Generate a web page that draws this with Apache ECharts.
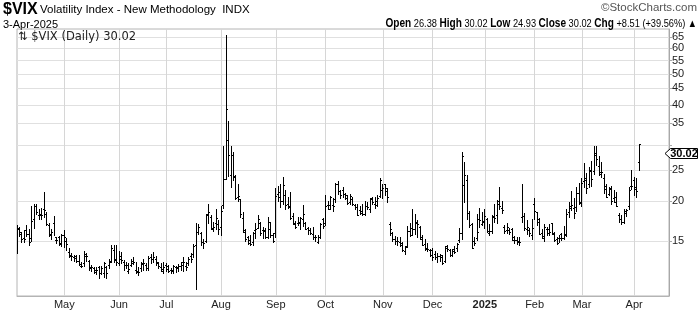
<!DOCTYPE html>
<html><head><meta charset="utf-8">
<script src="https://cdn.jsdelivr.net/npm/echarts@6/dist/echarts.min.js"></script>
<style>html,body{margin:0;padding:0;background:#fff}#c{width:700px;height:312px}</style>
</head><body><div id="c"></div>
<script>
const dates = [
'2024-04-04','2024-04-05','2024-04-08','2024-04-09','2024-04-10','2024-04-11','2024-04-12','2024-04-15','2024-04-16','2024-04-17','2024-04-18','2024-04-19','2024-04-22','2024-04-23','2024-04-24','2024-04-25','2024-04-26','2024-04-29','2024-04-30',
'2024-05-01','2024-05-02','2024-05-03','2024-05-06','2024-05-07','2024-05-08','2024-05-09','2024-05-10','2024-05-13','2024-05-14','2024-05-15','2024-05-16','2024-05-17','2024-05-20','2024-05-21','2024-05-22','2024-05-23','2024-05-24','2024-05-28','2024-05-29','2024-05-30','2024-05-31',
'2024-06-03','2024-06-04','2024-06-05','2024-06-06','2024-06-07','2024-06-10','2024-06-11','2024-06-12','2024-06-13','2024-06-14','2024-06-17','2024-06-18','2024-06-20','2024-06-21','2024-06-24','2024-06-25','2024-06-26','2024-06-27','2024-06-28',
'2024-07-01','2024-07-02','2024-07-03','2024-07-05','2024-07-08','2024-07-09','2024-07-10','2024-07-11','2024-07-12','2024-07-15','2024-07-16','2024-07-17','2024-07-18','2024-07-19','2024-07-22','2024-07-23','2024-07-24','2024-07-25','2024-07-26','2024-07-29','2024-07-30','2024-07-31',
'2024-08-01','2024-08-02','2024-08-05','2024-08-06','2024-08-07','2024-08-08','2024-08-09','2024-08-12','2024-08-13','2024-08-14','2024-08-15','2024-08-16','2024-08-19','2024-08-20','2024-08-21','2024-08-22','2024-08-23','2024-08-26','2024-08-27','2024-08-28','2024-08-29','2024-08-30',
'2024-09-03','2024-09-04','2024-09-05','2024-09-06','2024-09-09','2024-09-10','2024-09-11','2024-09-12','2024-09-13','2024-09-16','2024-09-17','2024-09-18','2024-09-19','2024-09-20','2024-09-23','2024-09-24','2024-09-25','2024-09-26','2024-09-27','2024-09-30',
'2024-10-01','2024-10-02','2024-10-03','2024-10-04','2024-10-07','2024-10-08','2024-10-09','2024-10-10','2024-10-11','2024-10-14','2024-10-15','2024-10-16','2024-10-17','2024-10-18','2024-10-21','2024-10-22','2024-10-23','2024-10-24','2024-10-25','2024-10-28','2024-10-29','2024-10-30','2024-10-31',
'2024-11-01','2024-11-04','2024-11-05','2024-11-06','2024-11-07','2024-11-08','2024-11-11','2024-11-12','2024-11-13','2024-11-14','2024-11-15','2024-11-18','2024-11-19','2024-11-20','2024-11-21','2024-11-22','2024-11-25','2024-11-26','2024-11-27','2024-11-29',
'2024-12-02','2024-12-03','2024-12-04','2024-12-05','2024-12-06','2024-12-09','2024-12-10','2024-12-11','2024-12-12','2024-12-13','2024-12-16','2024-12-17','2024-12-18','2024-12-19','2024-12-20','2024-12-23','2024-12-24','2024-12-26','2024-12-27','2024-12-30','2024-12-31',
'2025-01-02','2025-01-03','2025-01-06','2025-01-07','2025-01-08','2025-01-10','2025-01-13','2025-01-14','2025-01-15','2025-01-16','2025-01-17','2025-01-21','2025-01-22','2025-01-23','2025-01-24','2025-01-27','2025-01-28','2025-01-29','2025-01-30','2025-01-31',
'2025-02-03','2025-02-04','2025-02-05','2025-02-06','2025-02-07','2025-02-10','2025-02-11','2025-02-12','2025-02-13','2025-02-14','2025-02-18','2025-02-19','2025-02-20','2025-02-21','2025-02-24','2025-02-25','2025-02-26','2025-02-27','2025-02-28',
'2025-03-03','2025-03-04','2025-03-05','2025-03-06','2025-03-07','2025-03-10','2025-03-11','2025-03-12','2025-03-13','2025-03-14','2025-03-17','2025-03-18','2025-03-19','2025-03-20','2025-03-21','2025-03-24','2025-03-25','2025-03-26','2025-03-27','2025-03-28','2025-03-31',
'2025-04-01','2025-04-02','2025-04-03'
];

const opens = [
14.4,16.5,15.8,15.3,16.2,15.8,15.3,17.6,19.3,18.1,18.0,18.8,18.2,16.8,15.8,17.0,15.1,15.4,14.8,
15.6,15.0,13.8,13.5,13.3,13.4,13.0,12.5,12.8,13.4,13.0,12.3,12.3,12.2,12.4,11.9,11.9,12.4,12.6,13.0,14.0,13.2,
12.8,13.4,12.9,12.6,12.1,12.6,13.0,12.2,12.0,12.3,12.8,12.6,12.3,13.3,13.2,13.2,12.8,12.4,12.1,
12.6,12.5,12.2,12.2,12.4,12.4,12.5,12.6,12.5,12.8,13.4,13.6,14.6,16.0,15.9,14.9,15.0,18.2,17.8,16.3,17.0,16.9,
16.6,19.4,23.4,31.0,24.1,27.8,23.9,20.5,20.2,17.7,16.0,15.4,15.1,14.9,16.2,16.5,17.1,16.2,16.1,15.4,16.3,15.6,
15.9,21.0,20.6,19.9,20.9,19.6,19.2,17.9,16.9,17.1,17.0,17.5,17.0,16.4,16.2,15.7,15.4,14.9,15.4,17.5,
17.0,19.4,19.4,19.4,20.3,22.6,21.5,21.6,21.0,20.9,19.8,20.2,19.4,19.1,18.7,18.6,18.2,19.3,18.9,20.3,19.5,19.9,20.7,
21.6,22.5,21.5,16.9,15.9,15.2,15.0,14.9,14.6,13.9,14.4,16.1,16.5,16.3,17.1,16.6,15.4,14.7,14.2,14.0,
14.0,13.6,13.3,13.4,13.3,13.0,14.4,14.0,13.5,14.1,14.2,15.1,15.9,22.4,23.2,18.3,16.9,15.0,15.3,17.6,16.9,
17.2,17.5,15.9,16.1,17.9,18.0,20.0,19.0,16.6,16.2,16.2,16.3,15.4,15.1,14.9,17.8,17.9,16.3,16.2,15.6,
19.5,18.4,17.6,15.9,15.3,16.3,16.3,17.0,15.7,15.2,15.3,15.8,15.3,15.7,18.5,19.2,19.0,18.3,21.2,
19.8,23.0,23.3,22.5,24.8,24.7,28.2,25.6,24.6,23.5,22.3,21.0,21.9,20.4,20.6,18.0,17.5,17.2,18.6,19.3,22.2,
23.2,22.1,26.38
];

const highs = [
16.76,16.6,16.0,16.2,16.8,16.3,19.3,19.6,19.5,18.9,19.0,21.36,18.4,17.0,16.3,17.9,15.4,15.5,15.8,
16.2,15.3,14.2,13.7,13.5,13.5,13.5,12.9,13.9,13.7,13.1,12.6,12.4,12.4,12.5,12.5,12.9,12.5,13.2,14.6,14.6,14.6,
13.9,13.8,13.1,12.9,12.8,13.2,13.3,12.9,12.4,12.9,13.2,12.8,13.4,13.6,13.8,13.4,12.9,12.8,12.9,
12.8,12.6,12.3,12.6,12.5,12.7,12.9,13.3,12.9,13.3,13.7,14.7,17.0,16.9,16.0,15.2,18.2,19.5,18.0,17.2,18.8,17.4,
19.3,29.66,65.73,35.6,29.6,28.3,24.1,22.5,20.3,18.5,16.3,15.5,15.6,16.0,17.0,18.0,17.2,16.6,16.5,17.8,17.2,15.9,
21.9,22.2,22.6,23.8,21.6,20.6,21.3,18.3,17.3,17.8,17.8,19.4,17.2,16.6,16.5,16.6,15.6,15.6,17.0,17.7,
20.9,20.0,20.7,20.4,22.8,23.0,21.6,22.0,21.2,20.9,21.0,20.5,19.6,19.5,19.3,19.5,20.0,19.8,20.4,20.6,20.5,20.8,23.6,
22.5,22.6,21.9,17.2,16.0,15.5,15.4,15.4,14.9,14.4,16.7,17.1,18.8,18.2,17.4,16.7,15.6,15.2,14.8,14.1,
14.2,13.9,13.7,13.6,13.5,14.4,14.6,14.1,14.1,14.4,14.8,16.4,28.32,26.4,24.0,18.6,17.0,15.4,18.2,19.0,18.5,
18.9,17.7,16.9,18.0,19.5,20.1,22.0,20.0,16.8,17.0,16.4,16.5,15.5,15.4,15.4,22.5,18.3,17.4,16.5,17.6,
20.4,18.5,17.7,16.3,16.9,16.6,16.9,17.0,16.0,15.4,15.6,15.9,16.7,18.9,19.8,21.5,20.4,22.0,22.8,
23.5,26.3,24.4,25.5,26.6,29.6,29.57,27.5,26.5,24.3,22.6,22.1,22.3,21.6,21.3,18.3,18.0,18.8,18.9,22.0,24.9,
23.8,23.6,30.02
];

const lows = [
13.72,15.5,14.9,14.9,15.5,14.6,15.0,16.4,18.2,17.6,17.6,17.8,16.8,15.5,15.2,15.6,14.8,14.6,14.4,
14.3,14.0,13.3,13.1,13.0,12.9,12.6,12.4,12.5,13.0,12.2,12.1,11.9,11.8,11.5,11.8,11.6,11.5,12.3,12.9,12.9,12.6,
12.6,12.8,12.2,12.3,11.9,12.5,12.7,11.9,11.7,12.1,12.2,12.2,12.2,12.8,12.9,12.6,12.3,12.1,11.9,
12.1,12.0,11.9,11.9,12.0,12.1,12.2,12.1,12.2,12.6,12.9,13.3,10.6,15.7,14.6,14.2,14.9,17.0,16.3,16.1,16.3,15.8,
15.6,19.0,23.39,23.9,22.0,23.2,20.2,19.9,17.8,16.0,15.0,14.7,14.5,14.6,15.3,16.4,15.6,15.3,15.3,15.3,15.4,14.9,
15.4,19.9,19.1,19.5,18.9,19.0,17.6,16.9,16.4,16.8,16.3,16.7,16.3,15.7,15.8,15.2,15.0,14.8,15.3,16.5,
16.8,18.8,18.9,18.6,19.8,21.0,20.4,20.6,20.3,19.6,19.5,19.4,18.8,18.0,18.2,18.0,18.1,18.9,18.5,19.6,19.0,19.3,20.5,
20.4,20.9,19.8,15.6,15.0,14.7,14.6,14.4,13.9,13.6,14.3,15.5,15.6,15.7,15.4,15.2,14.5,14.0,13.9,13.4,
13.1,13.2,12.9,13.0,12.7,12.9,13.9,13.4,13.4,13.7,13.9,14.9,15.2,19.8,17.6,16.6,14.2,14.5,15.1,16.6,16.8,
16.5,16.0,15.6,15.9,17.2,17.1,18.9,18.3,15.9,15.9,15.8,15.1,14.8,14.7,14.6,17.2,16.2,15.8,15.5,15.2,
17.6,16.8,15.7,15.3,15.0,15.6,15.6,15.8,15.0,14.7,14.9,15.1,15.2,15.5,17.8,18.7,17.7,18.6,19.5,
19.2,22.0,21.2,22.1,22.2,24.2,25.9,24.0,23.8,21.2,20.5,20.9,19.6,19.8,19.2,17.2,16.9,17.0,17.9,18.8,21.7,
20.8,20.6,24.93
];

const closes = [
16.35,16.03,15.19,15.20,15.80,14.91,17.31,19.23,18.40,18.21,18.00,18.71,16.94,15.69,15.97,15.37,15.03,14.67,15.65,
15.39,14.68,13.49,13.49,13.23,13.00,12.69,12.55,13.60,13.42,12.45,12.42,11.99,12.15,11.86,12.29,12.77,11.93,12.92,14.28,13.10,12.92,
13.11,13.06,12.63,12.58,12.22,12.74,12.85,12.04,11.94,12.66,12.75,12.30,13.28,13.20,13.33,12.84,12.55,12.24,12.44,
12.22,12.03,12.09,12.48,12.37,12.51,12.85,12.89,12.46,13.12,13.19,14.48,15.93,16.52,14.91,14.72,18.04,18.46,16.39,16.60,17.69,16.36,
18.59,23.39,38.57,27.71,27.85,23.79,20.37,20.71,18.12,16.19,15.23,14.80,14.65,15.88,16.27,17.55,15.86,16.15,15.43,17.11,15.65,15.00,
20.72,21.32,19.90,22.38,19.45,19.08,17.69,17.07,16.56,17.14,17.61,18.23,16.33,16.15,15.89,15.39,15.41,15.37,16.96,16.73,
19.26,18.90,20.49,19.21,22.64,21.42,20.86,20.93,20.46,19.70,20.64,19.58,19.11,18.03,18.37,18.20,19.24,19.08,20.33,19.80,19.34,20.35,23.16,
21.88,21.98,20.49,16.27,15.20,14.94,14.97,14.71,14.02,14.31,16.14,15.58,16.35,17.16,16.87,15.24,14.60,14.10,14.10,13.51,
13.34,13.30,13.45,13.54,12.77,14.19,14.18,13.58,13.92,13.81,14.69,15.87,27.62,24.09,18.36,16.78,14.27,14.73,15.95,17.40,17.35,
17.93,16.13,16.04,17.82,17.70,19.54,19.19,18.71,16.12,16.60,15.97,15.06,15.10,15.02,14.85,17.90,16.41,16.56,15.84,16.43,
18.62,17.21,15.77,15.50,16.54,15.81,16.02,15.89,15.10,14.77,15.35,15.27,15.66,18.21,18.98,19.43,19.10,21.13,19.63,
22.78,23.51,21.93,24.87,23.37,27.86,26.92,24.23,24.66,21.77,20.51,21.70,19.90,19.80,19.28,17.48,17.15,18.33,18.69,21.65,22.28,
21.77,21.51,30.02
];

const monthLabels = ['May','Jun','Jul','Aug','Sep','Oct','Nov','Dec','2025','Feb','Mar','Apr'];
const yTickValues = [15,20,25,30,35,40,45,50,55,60,65];
const yLabelValues = [15,20,25,35,40,45,50,55,60,65];
const lastClose = 30.02;
const padSlots = 12;

// month-start indices, matched in order with monthLabels
const monthStarts = [];
for (let i = 1; i < dates.length; i++) {
  if (dates[i].slice(0,7) !== dates[i-1].slice(0,7)) monthStarts.push(i);
}
const labelAt = {};
monthStarts.forEach((idx, k) => { labelAt[idx] = monthLabels[k]; });

const categories = dates.slice();
for (let k = 0; k < padSlots; k++) categories.push('pad' + k);

const n = Math.min(dates.length, opens.length, highs.length, lows.length, closes.length);
const ohlc = [];
for (let i = 0; i < n; i++) ohlc.push([i, opens[i], highs[i], lows[i], closes[i]]);

const FONT = '"Liberation Sans", Arial, sans-serif';
const DJ = '"DejaVu Sans", Verdana, sans-serif';
const chart = echarts.init(document.getElementById('c'), null, {renderer: 'canvas'});

function renderOHLC(params, api) {
  const idx = api.value(0);
  const h = api.coord([idx, api.value(2)]);
  const l = api.coord([idx, api.value(3)]);
  const o = api.coord([idx, api.value(1)]);
  const c = api.coord([idx, api.value(4)]);
  const col = Math.floor(h[0]);
  const top = Math.floor(h[1]);
  const bot = Math.max(Math.floor(l[1]), top) + 1;
  const st = {fill: '#000'};
  return {type: 'group', children: [
    {type: 'rect', shape: {x: col, y: top, width: 1, height: bot - top}, style: st},
    {type: 'rect', shape: {x: col - 1, y: Math.floor(o[1]), width: 1, height: 1}, style: st},
    {type: 'rect', shape: {x: col + 1, y: Math.floor(c[1]), width: 1, height: 1}, style: st}
  ]};
}

chart.setOption({
  animation: false,
  backgroundColor: '#fff',
  textStyle: {fontFamily: FONT},
  grid: {left: 17, right: 31, top: 29, bottom: 16, show: true, borderColor: '#b4b4b4', borderWidth: 1, containLabel: false, outerBoundsMode: 'none'},
  xAxis: {
    type: 'category', data: categories, boundaryGap: false,
    axisLine: {show: true, lineStyle: {color: '#b4b4b4'}},
    axisTick: {show: false},
    axisLabel: {
      interval: (idx) => labelAt[idx] !== undefined,
      formatter: (v, idx) => {
        const t = labelAt[idx];
        if (t === undefined) return '';
        return /^\d{4}$/.test(t) ? '{b|' + t + '}' : t;
      },
      color: '#222', fontSize: 11, fontFamily: FONT, margin: 3,
      rich: {b: {fontWeight: 'bold', fontSize: 11, fontFamily: FONT, color: '#222'}}
    },
    splitLine: {show: true, interval: (idx) => labelAt[idx] !== undefined, lineStyle: {color: '#d6d6d6', width: 1}}
  },
  yAxis: {
    type: 'log', logBase: 10, min: 10.12, max: 69, position: 'right',
    axisLine: {show: true, lineStyle: {color: '#a8a8a8'}},
    axisTick: {show: true, inside: false, length: 3, customValues: yTickValues, lineStyle: {color: '#a8a8a8'}},
    axisLabel: {customValues: yLabelValues, color: '#222', fontSize: 11, fontFamily: FONT, margin: 3, formatter: (v) => String(Math.round(v))},
    splitLine: {show: true, lineStyle: {color: '#e0e0e0', width: 1}},
    minorTick: {show: false}, minorSplitLine: {show: false}
  },
  series: [{
    type: 'custom', renderItem: renderOHLC, data: ohlc,
    encode: {x: 0, y: [1, 2, 3, 4]}, clip: true, z: 5
  }]
});

// last-price tag on the right axis, placed from the axis scale
const yLast = chart.convertToPixel({yAxisIndex: 0}, lastClose);
const cy = Math.round(yLast) + 8;
chart.setOption({
  graphic: [
    {type: 'text', left: 3, top: 2, style: {text: '$VIX', font: 'bold 16px ' + FONT, fill: '#000'}},
    {type: 'text', left: 40, top: 4, style: {text: 'Volatility Index - New Methodology  INDX', font: '11.5px ' + FONT, fill: '#000'}},
    {type: 'text', left: 3, top: 19, style: {text: '3-Apr-2025', font: '11px ' + FONT, fill: '#000'}},
    {type: 'text', x: 697, y: 2, style: {text: '\u00A9StockCharts.com', font: '11.5px ' + FONT, fill: '#555', align: 'right', verticalAlign: 'top'}},
    {type: 'text', x: 697, y: 18, scaleX: 0.84, style: {
      text: '{b|Open} 26.38 {b|High} 30.02 {b|Low} 24.93 {b|Close} 30.02 {b|Chg} +8.51 (+39.56%) \u25B2',
      font: '11px ' + FONT, fill: '#000', align: 'right', verticalAlign: 'top',
      rich: {b: {font: 'bold 12px ' + FONT, fill: '#000'}}
    }},
    {type: 'text', left: 18, top: 31, z: 10, style: {text: '\u21C5 $VIX (Daily) 30.02', font: '11.5px ' + DJ, fill: '#222'}},
    {type: 'polygon', z: 20, shape: {points: [[665, cy + 0.5], [670.5, cy - 4.5], [697.5, cy - 4.5], [697.5, cy + 5.5], [670.5, cy + 5.5]]},
      style: {fill: '#fff', stroke: '#000', lineWidth: 1}},
    {type: 'text', z: 21, x: 684, y: cy + 1, style: {text: lastClose.toFixed(2), font: 'bold 11px ' + FONT, fill: '#000', align: 'center', verticalAlign: 'middle'}}
  ]
});
</script>
</body></html>
